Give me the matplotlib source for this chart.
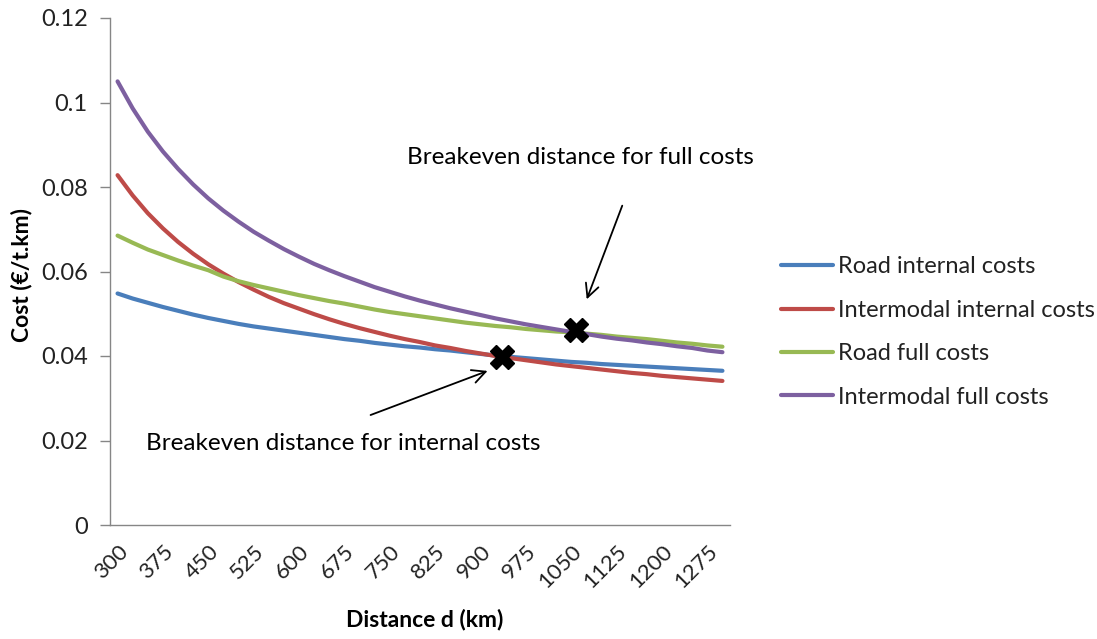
import matplotlib
matplotlib.use("Agg")
import matplotlib.pyplot as plt

plt.rcParams['font.family'] = ['Lato', 'DejaVu Sans']

distances = [300, 325, 350, 375, 400, 425, 450, 475, 500, 525, 550, 575, 600, 625, 650,
             675, 700, 725, 750, 775, 800, 825, 850, 875, 900, 925, 950, 975, 1000, 1025,
             1050, 1075, 1100, 1125, 1150, 1175, 1200, 1225, 1250, 1275, 1300]

road_internal = [0.0548, 0.0536, 0.0526, 0.0516, 0.0507, 0.0498, 0.0490, 0.0483, 0.0476, 0.0470,
                 0.0465, 0.0460, 0.0455, 0.0450, 0.0445, 0.0440, 0.0436, 0.0431, 0.0427, 0.0423,
                 0.0420, 0.0416, 0.0413, 0.0409, 0.0405, 0.0401, 0.0398, 0.0395, 0.0392, 0.0389,
                 0.0386, 0.0384, 0.0381, 0.0379, 0.0377, 0.0375, 0.0373, 0.0371, 0.0369, 0.0367,
                 0.0365]

intermodal_internal = [0.0828, 0.0780, 0.0738, 0.0702, 0.0670, 0.0642, 0.0617, 0.0595, 0.0575, 0.0557,
                       0.0540, 0.0525, 0.0512, 0.0499, 0.0487, 0.0476, 0.0466, 0.0457, 0.0448, 0.0440,
                       0.0433, 0.0425, 0.0419, 0.0412, 0.0406, 0.0400, 0.0395, 0.0390, 0.0385, 0.0380,
                       0.0376, 0.0372, 0.0368, 0.0364, 0.0360, 0.0357, 0.0353, 0.0350, 0.0347, 0.0344,
                       0.0341]

road_full = [0.0685, 0.0668, 0.0652, 0.0639, 0.0626, 0.0614, 0.0603, 0.0588, 0.0577, 0.0568,
             0.0560, 0.0552, 0.0544, 0.0537, 0.0530, 0.0524, 0.0517, 0.0510, 0.0504, 0.0499,
             0.0494, 0.0489, 0.0484, 0.0479, 0.0475, 0.0471, 0.0468, 0.0464, 0.0461, 0.0458,
             0.0456, 0.0453, 0.0450, 0.0446, 0.0443, 0.0440, 0.0436, 0.0432, 0.0429, 0.0425,
             0.0422]

intermodal_full = [0.1050, 0.0986, 0.0931, 0.0884, 0.0843, 0.0806, 0.0773, 0.0744, 0.0718, 0.0694,
                   0.0673, 0.0653, 0.0635, 0.0618, 0.0603, 0.0589, 0.0576, 0.0563, 0.0552, 0.0541,
                   0.0531, 0.0522, 0.0513, 0.0505, 0.0497, 0.0489, 0.0482, 0.0475, 0.0469, 0.0463,
                   0.0457, 0.0452, 0.0446, 0.0441, 0.0437, 0.0432, 0.0428, 0.0423, 0.0419, 0.0413,
                   0.0409]

series_names = ["Road internal costs", "Intermodal internal costs",
                "Road full costs", "Intermodal full costs"]
series_colors = ["#4A7EBB", "#BE4B48", "#98B954", "#7D60A0"]

tick_labels = [300, 375, 450, 525, 600, 675, 750, 825, 900, 975, 1050, 1125, 1200, 1275]
y_ticks = [0, 0.02, 0.04, 0.06, 0.08, 0.1, 0.12]
y_tick_labels = ["0", "0.02", "0.04", "0.06", "0.08", "0.1", "0.12"]

breakeven_internal = (935, 0.0398)
breakeven_full = (1058, 0.0461)

fig = plt.figure(figsize=(10.97, 6.39), dpi=100)
ax = fig.add_axes([110/1097, 1-525/639, 620/1097, 507/639])

for vals, name, col in zip([road_internal, intermodal_internal, road_full, intermodal_full],
                           series_names, series_colors):
    ax.plot(distances, vals, color=col, lw=3.0, label=name, solid_capstyle='round')

ax.plot(*breakeven_internal, marker='X', color='black', markersize=17, zorder=5)
ax.plot(*breakeven_full, marker='X', color='black', markersize=17, zorder=5)

ax.set_xlim(287.5, 1312.5)
ax.set_ylim(0, 0.12)
ax.set_xticks(tick_labels)
ax.set_xticklabels([str(t) for t in tick_labels], rotation=45, ha='right',
                   rotation_mode='anchor', fontsize=16, color='#222222')
ax.set_yticks(y_ticks)
ax.set_yticklabels(y_tick_labels, fontsize=17, color='#222222')
ax.tick_params(axis='x', length=0, pad=12)
ax.tick_params(axis='y', length=7, width=1, color='#868686', pad=9)

for s in ['top', 'right']:
    ax.spines[s].set_visible(False)
for s in ['left', 'bottom']:
    ax.spines[s].set_color('#868686')
    ax.spines[s].set_linewidth(1)

fig.text(22/1097, 1-275/639, "Cost (€/t.km)", rotation=90, ha='center', va='center',
         fontsize=16.5, fontweight='bold')
fig.text(425/1097, 1-620/639, "Distance d (km)", ha='center', va='center',
         fontsize=16.5, fontweight='bold')

ax.annotate("", xy=(1074, 0.0528), xytext=(1136, 0.0762),
            arrowprops=dict(arrowstyle='->', color='black', lw=1.3, mutation_scale=24))
ax.annotate("", xy=(916, 0.0367), xytext=(714, 0.0258),
            arrowprops=dict(arrowstyle='->', color='black', lw=1.3, mutation_scale=24))
fig.text(580/1097, 1-157/639, "Breakeven distance for full costs", ha='center', va='center',
         fontsize=17.5)
fig.text(343/1097, 1-444/639, "Breakeven distance for internal costs", ha='center', va='center',
         fontsize=17.5)

leg = fig.legend(loc='upper left', bbox_to_anchor=(772/1097, 1-247/639), frameon=False,
                 fontsize=17, handlelength=2.2, handletextpad=0.2, labelspacing=0.95,
                 borderaxespad=0)
for t in leg.get_texts():
    t.set_color('#222222')

fig.savefig("out.png", dpi=100)
